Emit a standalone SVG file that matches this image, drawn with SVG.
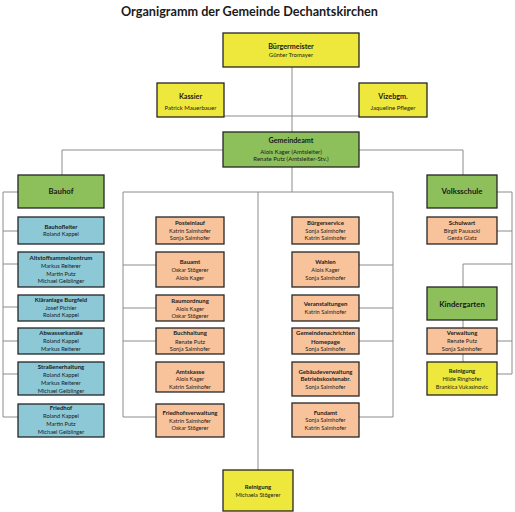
<svg xmlns="http://www.w3.org/2000/svg" width="515" height="512" viewBox="0 0 515 512">
<style>
.bx{stroke:#262626;stroke-width:1.3}
.ye{fill:#EFE83C}.gr{fill:#8DBF5A}.bl{fill:#8CC8D6}.or{fill:#F8C39A}
text{font-family:Lato,"Open Sans","Liberation Sans",sans-serif;fill:#1a1a1a;text-anchor:middle}
.tt{font-size:14px;font-weight:bold}
.h1{font-size:7.2px;font-weight:bold}
.n1{font-size:6px}
.hs{font-size:7.8px;font-weight:bold}
.h2{font-size:6px;font-weight:bold}
.n2{font-size:5.7px}
#connectors path{fill:none;stroke:#8c8c8c;stroke-width:1}
</style>
<rect width="515" height="512" fill="#ffffff"/>
<text class="tt" x="249.5" y="15.5" textLength="257" lengthAdjust="spacingAndGlyphs">Organigramm der Gemeinde Dechantskirchen</text>
<g id="connectors">
<path d="M292,67V132M224,116H359"/>
<path d="M62,175V150H463V175"/>
<path d="M18,192H3V417H18M3,231H18M3,264H18M3,307H18M3,341H18M3,374H18"/>
<path d="M292,167V192M123,192H393M123,192V417H156M123,265H156M123,308H156M123,341H156"/>
<path d="M393,192V417H359M359,265H393M359,308H393M359,341H393"/>
<path d="M258,192V470"/>
<path d="M497,192H512V374H497M497,231H512M463,264H512M497,341H512M463,264V362"/>
</g>
<g id="buergermeister"><rect class="bx ye" x="223" y="33" width="136" height="34"/><text class="h1" x="291" y="49.2">Bürgermeister</text><text class="n1" x="291" y="57">Günter Tromayer</text></g>
<g id="kassier"><rect class="bx ye" x="157" y="83" width="67" height="34"/><text class="h1" x="190.5" y="99.2">Kassier</text><text class="n1" x="190.5" y="110.3">Patrick Mauerbauer</text></g>
<g id="vizebgm"><rect class="bx ye" x="359" y="83" width="68" height="34"/><text class="h1" x="393" y="99.2">Vizebgm.</text><text class="n1" x="393" y="110.3">Jaqueline Pfleger</text></g>
<g id="gemeindeamt"><rect class="bx gr" x="223" y="132" width="136" height="35"/><text class="h1" x="291" y="143.2">Gemeindeamt</text><text class="n1" x="291" y="153.7">Alois Kager (Amtsleiter)</text><text class="n1" x="291" y="161.3">Renate Putz (Amtsleiter-Stv.)</text></g>
<g id="bauhof"><rect class="bx gr" x="18" y="175" width="86" height="33"/><text class="hs" x="61" y="194.4">Bauhof</text></g>
<g id="volksschule"><rect class="bx gr" x="427" y="175" width="70" height="33"/><text class="hs" x="462" y="194.4">Volksschule</text></g>
<g id="kindergarten"><rect class="bx gr" x="427" y="287" width="70" height="33"/><text class="hs" x="462" y="306.7">Kindergarten</text></g>
<g id="bauhofleiter"><rect class="bx bl" x="18" y="217" width="86" height="27"/><text class="h2" x="61" y="228.7">Bauhofleiter</text><text class="n2" x="61" y="236.2">Roland Kappel</text></g>
<g id="altstoff"><rect class="bx bl" x="18" y="252" width="86" height="35"/><text class="h2" x="61" y="260.3">Altstoffsammelzentrum</text><text class="n2" x="61" y="267.9">Markus Reiterer</text><text class="n2" x="61" y="275.6">Martin Putz</text><text class="n2" x="61" y="283.4">Michael Geiblinger</text></g>
<g id="klaeranlage"><rect class="bx bl" x="18" y="295" width="86" height="26"/><text class="h2" x="61" y="302">Kläranlage Burgfeld</text><text class="n2" x="61" y="309.9">Josef Pichler</text><text class="n2" x="61" y="317.2">Roland Kappel</text></g>
<g id="abwasser"><rect class="bx bl" x="18" y="328" width="86" height="26"/><text class="h2" x="61" y="335.3">Abwasserkanäle</text><text class="n2" x="61" y="343.2">Roland Kappel</text><text class="n2" x="61" y="350.9">Markus Reiterer</text></g>
<g id="strassen"><rect class="bx bl" x="18" y="362" width="86" height="33"/><text class="h2" x="61" y="369.3">Straßenerhaltung</text><text class="n2" x="61" y="376.9">Roland Kappel</text><text class="n2" x="61" y="384.9">Markus Reiterer</text><text class="n2" x="61" y="392.6">Michael Geiblinger</text></g>
<g id="friedhof"><rect class="bx bl" x="18" y="404" width="86" height="33"/><text class="h2" x="61" y="410.3">Friedhof</text><text class="n2" x="61" y="418.2">Roland Kappel</text><text class="n2" x="61" y="426.2">Martin Putz</text><text class="n2" x="61" y="433.9">Michael Geiblinger</text></g>
<g id="posteinlauf"><rect class="bx or" x="156" y="217" width="68" height="27"/><text class="h2" x="190" y="225.3">Posteinlauf</text><text class="n2" x="190" y="232.6">Katrin Salmhofer</text><text class="n2" x="190" y="240.2">Sonja Salmhofer</text></g>
<g id="bauamt"><rect class="bx or" x="156" y="252" width="68" height="35"/><text class="h2" x="190" y="263.7">Bauamt</text><text class="n2" x="190" y="271.9">Oskar Stögerer</text><text class="n2" x="190" y="279.6">Alois Kager</text></g>
<g id="raumordnung"><rect class="bx or" x="156" y="295" width="68" height="26"/><text class="h2" x="190" y="302.7">Raumordnung</text><text class="n2" x="190" y="310.6">Alois Kager</text><text class="n2" x="190" y="317.9">Oskar Stögerer</text></g>
<g id="buchhaltung"><rect class="bx or" x="156" y="328" width="68" height="26"/><text class="h2" x="190" y="335.3">Buchhaltung</text><text class="n2" x="190" y="343.6">Renate Putz</text><text class="n2" x="190" y="351.2">Sonja Salmhofer</text></g>
<g id="amtskasse"><rect class="bx or" x="156" y="362" width="68" height="30"/><text class="h2" x="190" y="373.7">Amtskasse</text><text class="n2" x="190" y="381.2">Alois Kager</text><text class="n2" x="190" y="388.6">Katrin Salmhofer</text></g>
<g id="friedhofsverwaltung"><rect class="bx or" x="156" y="404" width="68" height="33"/><text class="h2" x="190" y="415.3">Friedhofsverwaltung</text><text class="n2" x="190" y="422.6">Katrin Salmhofer</text><text class="n2" x="190" y="430.2">Oskar Stögerer</text></g>
<g id="buergerservice"><rect class="bx or" x="292" y="217" width="67" height="27"/><text class="h2" x="325.5" y="225.3">Bürgerservice</text><text class="n2" x="325.5" y="232.6">Sonja Salmhofer</text><text class="n2" x="325.5" y="240.2">Katrin Salmhofer</text></g>
<g id="wahlen"><rect class="bx or" x="292" y="252" width="67" height="35"/><text class="h2" x="325.5" y="263.7">Wahlen</text><text class="n2" x="325.5" y="271.9">Alois Kager</text><text class="n2" x="325.5" y="279.6">Sonja Salmhofer</text></g>
<g id="veranstaltungen"><rect class="bx or" x="292" y="295" width="67" height="26"/><text class="h2" x="325.5" y="306">Veranstaltungen</text><text class="n2" x="325.5" y="313.6">Katrin Salmhofer</text></g>
<g id="gemeindenachrichten"><rect class="bx or" x="292" y="328" width="67" height="26"/><text class="h2" x="325.5" y="335.3">Gemeindenachrichten</text><text class="h2" x="325.5" y="343.6">Homepage</text><text class="n2" x="325.5" y="351.2">Sonja Salmhofer</text></g>
<g id="gebaeudeverwaltung"><rect class="bx or" x="292" y="362" width="67" height="34"/><text class="h2" x="325.5" y="373.7">Gebäudeverwaltung</text><text class="h2" x="325.5" y="381.3">Betriebskostenabr.</text><text class="n2" x="325.5" y="388.6">Sonja Salmhofer</text></g>
<g id="fundamt"><rect class="bx or" x="292" y="403" width="67" height="34"/><text class="h2" x="325.5" y="414.7">Fundamt</text><text class="n2" x="325.5" y="422.2">Sonja Salmhofer</text><text class="n2" x="325.5" y="430.2">Katrin Salmhofer</text></g>
<g id="schulwart"><rect class="bx or" x="427" y="217" width="70" height="27"/><text class="h2" x="462" y="225.3">Schulwart</text><text class="n2" x="462" y="232.9">Birgit Pausackl</text><text class="n2" x="462" y="240.2">Gerda Glatz</text></g>
<g id="verwaltung"><rect class="bx or" x="427" y="328" width="70" height="26"/><text class="h2" x="462" y="335.3">Verwaltung</text><text class="n2" x="462" y="342.9">Renate Putz</text><text class="n2" x="462" y="350.9">Sonja Salmhofer</text></g>
<g id="reinigung-kg"><rect class="bx ye" x="427" y="362" width="70" height="33"/><text class="h2" x="462" y="372.7">Reinigung</text><text class="n2" x="462" y="380.9">Hilde Ringhofer</text><text class="n2" x="462" y="388.6">Brankica Vukasinovic</text></g>
<g id="reinigung"><rect class="bx ye" x="223" y="470" width="70" height="41"/><text class="h2" x="258" y="489.3">Reinigung</text><text class="n2" x="258" y="496.9">Michaela Stögerer</text></g>
</svg>
